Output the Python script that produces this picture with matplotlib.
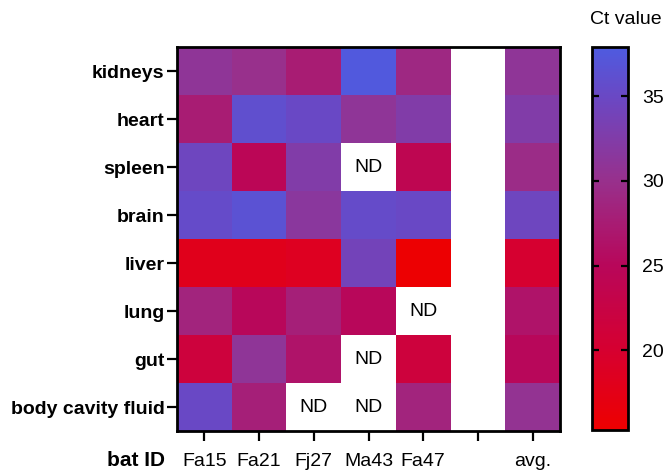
import numpy as np
import matplotlib
matplotlib.use("Agg")
import matplotlib.pyplot as plt
from matplotlib.colors import LinearSegmentedColormap

plt.rcParams['font.family'] = ['Liberation Sans', 'DejaVu Sans']

tissues = ["kidneys", "heart", "spleen", "brain", "liver", "lung", "gut", "body cavity fluid"]
col_labels = ["Fa15", "Fa21", "Fj27", "Ma43", "Fa47", "", "avg."]

# Ct values per bat (None = ND)
fa15 = [31.0, 27.5, 34.5, 35.5, 18.0, 28.5, 21.5, 35.0]
fa21 = [30.0, 36.0, 24.5, 36.5, 18.0, 25.0, 31.0, 28.0]
fj27 = [27.5, 35.0, 32.5, 31.5, 18.5, 28.0, 26.5, None]
ma43 = [37.5, 31.0, None, 35.5, 34.0, 25.0, None, None]
fa47 = [29.0, 32.5, 24.0, 35.0, 15.5, None, 21.5, 28.5]
avg = [31.0, 32.5, 29.5, 34.5, 20.0, 26.5, 25.0, 30.5]

ct_min, ct_max = 15.3, 37.9

# red -> crimson -> purple -> blue, like the Prism palette
cmap = LinearSegmentedColormap.from_list("ct", [
    (0.0, "#ee0000"),
    ((20 - ct_min) / (ct_max - ct_min), "#d60030"),
    ((25 - ct_min) / (ct_max - ct_min), "#b8075a"),
    ((30 - ct_min) / (ct_max - ct_min), "#98308c"),
    ((35 - ct_min) / (ct_max - ct_min), "#6a48c4"),
    (1.0, "#4e5be0"),
])

def to_arr(v):
    return np.array([np.nan if x is None else x for x in v], dtype=float)

blank = np.full(len(tissues), np.nan)
data = np.column_stack([to_arr(fa15), to_arr(fa21), to_arr(fj27), to_arr(ma43),
                        to_arr(fa47), blank, to_arr(avg)])

fig = plt.figure(figsize=(6.67, 4.7), dpi=100)
ax = fig.add_axes([177 / 667, 1 - 431 / 470, 383 / 667, 384 / 470])
cax = fig.add_axes([592 / 667, 1 - 430 / 470, 36 / 667, 383 / 470])

mesh = ax.pcolormesh(np.ma.masked_invalid(data), cmap=cmap, vmin=ct_min, vmax=ct_max)
ax.set_xlim(0, data.shape[1])
ax.set_ylim(data.shape[0], 0)

# ND labels where a bat has no value
for j, series in enumerate([fa15, fa21, fj27, ma43, fa47]):
    for i, v in enumerate(series):
        if v is None:
            ax.text(j + 0.5, i + 0.5, "ND", ha="center", va="center", fontsize=14)

ax.set_xticks(np.arange(data.shape[1]) + 0.5)
ax.set_xticklabels(col_labels, fontsize=14)
ax.set_yticks(np.arange(len(tissues)) + 0.5)
ax.set_yticklabels(tissues, fontsize=14, fontweight="bold")
ax.tick_params(axis="both", length=7, width=1.6)
ax.tick_params(axis="x", pad=9)
ax.tick_params(axis="y", pad=2)
for s in ax.spines.values():
    s.set_linewidth(2)

fig.text(165 / 667, 1 - 461 / 470, "bat ID", ha="right", va="center",
         fontsize=15, fontweight="bold")

cb = fig.colorbar(mesh, cax=cax)
cb.set_ticks([20, 25, 30, 35])
cb.ax.tick_params(direction="in", left=True, right=True, length=5, width=1.6,
                  labelsize=14, pad=10)
cb.outline.set_linewidth(2)
fig.text(626 / 667, 1 - 20 / 470, "Ct value", ha="center", va="center", fontsize=14)

fig.savefig("out.png", dpi=100)
